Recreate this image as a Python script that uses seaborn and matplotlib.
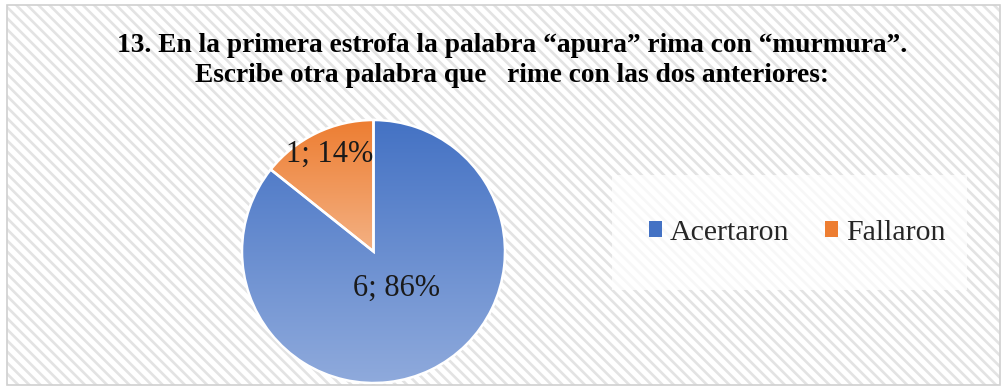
import numpy as np
import matplotlib
matplotlib.use("Agg")
import matplotlib.pyplot as plt
from matplotlib.patches import Rectangle
from matplotlib.colors import LinearSegmentedColormap
import seaborn as sns

# Survey answers
categories = ["Acertaron", "Fallaron"]
counts = [6, 1]
title_lines = [
    "13. En la primera estrofa la palabra \u201capura\u201d rima con \u201cmurmura\u201d.",
    "Escribe otra palabra que   rime con las dos anteriores:",
]

# Vertical gradient per slice: (top colour, bottom colour)
gradients = [("#4472C4", "#8FAADC"), ("#ED7D31", "#F4B183")]
# Data-label placement: radial distance and angular nudge (degrees)
label_dist = [0.33, 0.81]
label_nudge = [7, -1.5]

sns.set_theme(style="white")
plt.rcParams["font.family"] = ["Liberation Serif", "DejaVu Serif"]
plt.rcParams["hatch.linewidth"] = 1.9
plt.rcParams["hatch.color"] = "#e3e3e3"

W, H = 1005, 389
fig = plt.figure(figsize=(W / 100, H / 100), dpi=100)
fig.patch.set_facecolor("white")

# Chart area with diagonal stripes and a thin grey frame
fig.add_artist(Rectangle((7 / W, 1 - 385 / H), 993 / W, 380 / H,
                         transform=fig.transFigure, facecolor="white",
                         edgecolor="#e3e3e3", hatch="\\\\\\", lw=0, zorder=0))
fig.add_artist(Rectangle((7 / W, 1 - 385 / H), 993 / W, 380 / H,
                         transform=fig.transFigure, facecolor="none",
                         edgecolor="#d0d0d0", lw=1.2, zorder=1))

# Title
for i, line in enumerate(title_lines):
    fig.text(512 / W, 1 - (52 + 30 * i) / H, line, ha="center", va="baseline",
             fontsize=19.7, fontweight="bold", color="black")

# Pie
cx, cy, r = 373.5, 251.5, 131.5
ax = fig.add_axes([(cx - r) / W, 1 - (cy + r) / H, 2 * r / W, 2 * r / H])
ax.set_axis_off()
total = sum(counts)
wedges, _ = ax.pie(counts, startangle=90, counterclock=False, radius=1,
                   wedgeprops=dict(facecolor="none", edgecolor="white",
                                   linewidth=1.8, clip_on=False, zorder=3))

for w, (c_top, c_bot), v, d, nudge in zip(wedges, gradients, counts,
                                          label_dist, label_nudge):
    path = w.get_path().transformed(w.get_patch_transform())
    ext = path.get_extents()
    cmap = LinearSegmentedColormap.from_list("g", [c_bot, c_top])
    grad = np.linspace(0, 1, 256).reshape(-1, 1)
    im = ax.imshow(grad, cmap=cmap, origin="lower", aspect="auto",
                   extent=[ext.x0, ext.x1, ext.y0, ext.y1], zorder=2)
    im.set_clip_path(w)
    mid = np.deg2rad((w.theta1 + w.theta2) / 2 + nudge)
    pct = round(100 * v / total)
    ax.text(d * np.cos(mid), d * np.sin(mid), f"{v}; {pct}%",
            ha="center", va="center", fontsize=22, color="#1a1a1a", zorder=4)
ax.set_xlim(-1, 1)
ax.set_ylim(-1, 1)
ax.set_aspect("equal")

# Legend panel
fig.add_artist(Rectangle((612 / W, 1 - 290 / H), 355 / W, 115 / H,
                         transform=fig.transFigure, facecolor="white",
                         edgecolor="none", alpha=0.75, zorder=1))
handles = [Rectangle((0, 0), 1, 1, facecolor=g[0], edgecolor="none")
           for g in gradients]
fig.legend(handles, categories, loc="center", bbox_to_anchor=(797 / W, 1 - 233 / H),
           ncol=2, frameon=False, fontsize=21.5, handlelength=0.45, handleheight=0.45,
           handletextpad=0.25, columnspacing=1.2, borderpad=0, borderaxespad=0)

fig.savefig("out.png", dpi=100)
